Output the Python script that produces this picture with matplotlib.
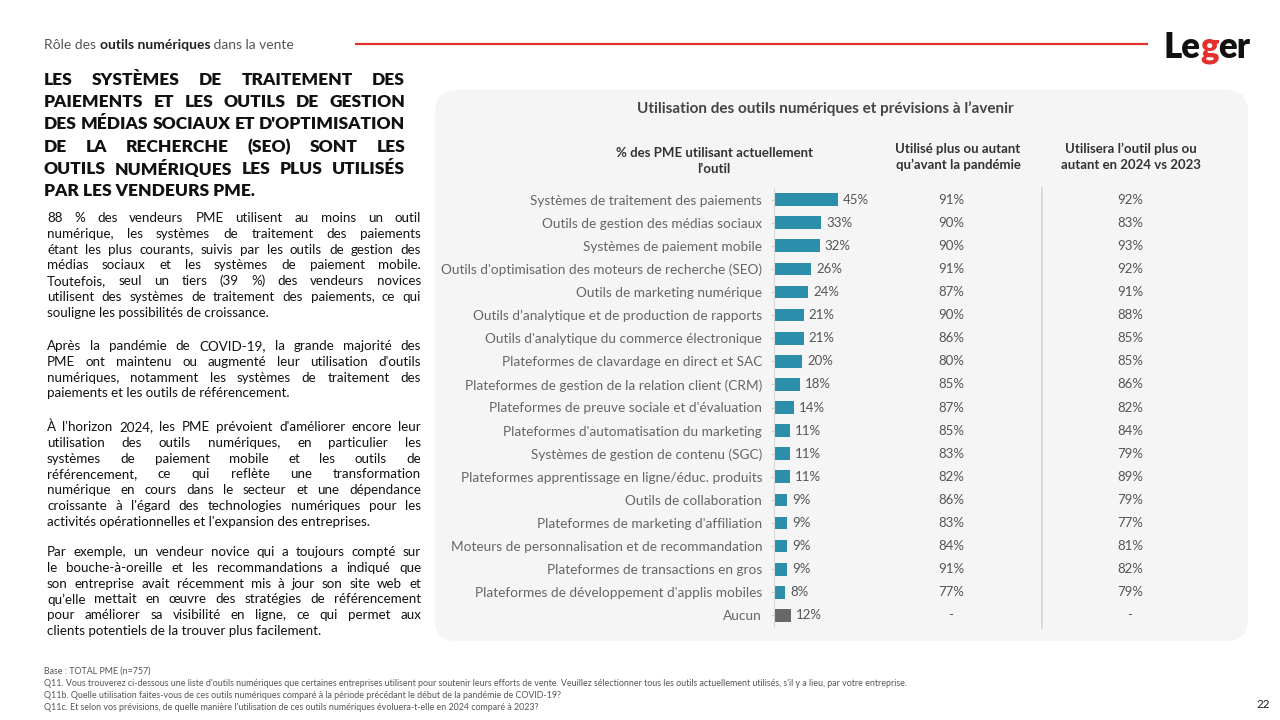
import numpy as np
import matplotlib
matplotlib.use("Agg")
import matplotlib.pyplot as plt
from matplotlib.patches import FancyBboxPatch
from matplotlib import transforms

plt.rcParams['font.family'] = ['Lato', 'DejaVu Sans']

# données du graphique
outils = [
    "Systèmes de traitement des paiements",
    "Outils de gestion des médias sociaux",
    "Systèmes de paiement mobile",
    "Outils d'optimisation des moteurs de recherche (SEO)",
    "Outils de marketing numérique",
    "Outils d’analytique et de production de rapports",
    "Outils d'analytique du commerce électronique",
    "Plateformes de clavardage en direct et SAC",
    "Plateformes de gestion de la relation client (CRM)",
    "Plateformes de preuve sociale et d'évaluation",
    "Plateformes d'automatisation du marketing",
    "Systèmes de gestion de contenu (SGC)",
    "Plateformes apprentissage en ligne/éduc. produits",
    "Outils de collaboration",
    "Plateformes de marketing d'affiliation",
    "Moteurs de personnalisation et de recommandation",
    "Plateformes de transactions en gros",
    "Plateformes de développement d'applis mobiles",
    "Aucun",
]
utilisation = [45, 33, 32, 26, 24, 21, 21, 20, 18, 14, 11, 11, 11, 9, 9, 9, 9, 8, 12]
pandemie = ["91%", "90%", "90%", "91%", "87%", "90%", "86%", "80%", "85%", "87%",
            "85%", "83%", "82%", "86%", "83%", "84%", "91%", "77%", "-"]
avenir = ["92%", "83%", "93%", "92%", "91%", "88%", "85%", "85%", "86%", "82%",
          "84%", "79%", "89%", "79%", "77%", "81%", "82%", "79%", "-"]

titre_gauche = [
    "LES SYSTÈMES DE TRAITEMENT DES",
    "PAIEMENTS ET LES OUTILS DE GESTION",
    "DES MÉDIAS SOCIAUX ET D'OPTIMISATION",
    "DE LA RECHERCHE (SEO) SONT LES",
    "OUTILS NUMÉRIQUES LES PLUS UTILISÉS",
    "PAR LES VENDEURS PME.",
]
paragraphes = [
    ["88 % des vendeurs PME utilisent au moins un outil",
     "numérique, les systèmes de traitement des paiements",
     "étant les plus courants, suivis par les outils de gestion des",
     "médias sociaux et les systèmes de paiement mobile.",
     "Toutefois, seul un tiers (39 %) des vendeurs novices",
     "utilisent des systèmes de traitement des paiements, ce qui",
     "souligne les possibilités de croissance."],
    ["Après la pandémie de COVID-19, la grande majorité des",
     "PME ont maintenu ou augmenté leur utilisation d'outils",
     "numériques, notamment les systèmes de traitement des",
     "paiements et les outils de référencement."],
    ["À l'horizon 2024, les PME prévoient d'améliorer encore leur",
     "utilisation des outils numériques, en particulier les",
     "systèmes de paiement mobile et les outils de",
     "référencement, ce qui reflète une transformation",
     "numérique en cours dans le secteur et une dépendance",
     "croissante à l'égard des technologies numériques pour les",
     "activités opérationnelles et l'expansion des entreprises."],
    ["Par exemple, un vendeur novice qui a toujours compté sur",
     "le bouche-à-oreille et les recommandations a indiqué que",
     "son entreprise avait récemment mis à jour son site web et",
     "qu’elle mettait en œuvre des stratégies de référencement",
     "pour améliorer sa visibilité en ligne, ce qui permet aux",
     "clients potentiels de la trouver plus facilement."],
]
notes = [
    "Base : TOTAL PME (n=757)",
    "Q11. Vous trouverez ci-dessous une liste d'outils numériques que certaines entreprises utilisent pour soutenir leurs efforts de vente. Veuillez sélectionner tous les outils actuellement utilisés, s'il y a lieu, par votre entreprise.",
    "Q11b. Quelle utilisation faites-vous de ces outils numériques comparé à la période précédant le début de la pandémie de COVID-19?",
    "Q11c. Et selon vos prévisions, de quelle manière l'utilisation de ces outils numériques évoluera-t-elle en 2024 comparé à 2023?",
]

fig = plt.figure(figsize=(12.8, 7.2), dpi=100)
# axe de fond en pixels
bg = fig.add_axes([0, 0, 1, 1])
bg.set_xlim(0, 1280)
bg.set_ylim(720, 0)
bg.axis("off")
renderer = fig.canvas.get_renderer()


def justifier(ligne, x0, x1, y, dernier=False, **kw):
    mots = ligne.split(" ")
    if dernier or len(mots) == 1:
        bg.text(x0, y, ligne, va="center", ha="left", **kw)
        return
    txts = [bg.text(0, y, m, va="center", ha="left", **kw) for m in mots]
    largeurs = [t.get_window_extent(renderer).width for t in txts]
    gap = (x1 - x0 - sum(largeurs)) / (len(mots) - 1)
    x = x0
    for t, w in zip(txts, largeurs):
        t.set_x(x)
        x += w + gap


# en-tête
t1 = bg.text(44, 45, "Rôle des ", fontsize=10, color="#555555", va="center")
w1 = t1.get_window_extent(renderer).width
t2 = bg.text(44 + w1, 45, "outils numériques", fontsize=10, color="#222222",
             fontweight="bold", va="center")
w2 = t2.get_window_extent(renderer).width
bg.text(44 + w1 + w2, 45, " dans la vente", fontsize=10, color="#555555", va="center")
bg.plot([356, 1147], [44, 44], color="#e2312d", lw=1.6)

# logo
x = 1163
for morceau, coul in [("Le", "#111111"), ("g", "#e2312d"), ("er", "#111111")]:
    t = bg.text(x, 47, morceau, fontsize=25, fontweight="heavy", color=coul, va="center")
    x += t.get_window_extent(renderer).width

# titre à gauche
for i, ligne in enumerate(titre_gauche):
    justifier(ligne, 44, 405, 80 + i * 22.2, dernier=(i == len(titre_gauche) - 1),
              fontsize=12.5, fontweight="heavy", color="#111111")

# paragraphes
y_debuts = [218, 346, 427, 552]
for para, y0 in zip(paragraphes, y_debuts):
    for i, ligne in enumerate(para):
        justifier(ligne, 47, 421, y0 + i * 15.8, dernier=(i == len(para) - 1),
                  fontsize=9.6, color="#111111")

# notes
for i, n in enumerate(notes):
    bg.text(44, 671 + i * 12, n, fontsize=6.4, color="#555555", va="center")
bg.text(1270, 705, "22", fontsize=8.5, color="#222222", va="center", ha="right")

# panneau gris arrondi
bg.add_patch(FancyBboxPatch((435, 90), 813, 551,
                            boxstyle="round,pad=0,rounding_size=22",
                            facecolor="#f5f5f5", edgecolor="none", zorder=0))
bg.text(825, 109, "Utilisation des outils numériques et prévisions à l’avenir",
        fontsize=11, fontweight="bold", color="#444444", ha="center", va="center")
bg.text(714, 161, "% des PME utilisant actuellement\nl’outil", fontsize=9.5,
        fontweight="bold", color="#333333", ha="center", va="center", linespacing=1.35)
bg.text(958, 157, "Utilisé plus ou autant\nqu’avant la pandémie", fontsize=9.5,
        fontweight="bold", color="#333333", ha="center", va="center", linespacing=1.35)
bg.text(1131, 157, "Utilisera l’outil plus ou\nautant en 2024 vs 2023", fontsize=9.5,
        fontweight="bold", color="#333333", ha="center", va="center", linespacing=1.35)
bg.plot([1042, 1042], [188, 628], color="#d4d4d4", lw=1.2)

# barres
ax = fig.add_axes([774 / 1280, 1 - 627 / 720, 100 / 1280, 439 / 720])
ax.patch.set_alpha(0)
n = len(outils)
pos = np.arange(n)
couleurs = ["#2b8fab"] * (n - 1) + ["#66666b"]
ax.barh(pos, utilisation, height=0.55, color=couleurs, zorder=2)
ax.set_xlim(0, 70.3)
ax.set_ylim(n - 0.5, -0.5)
ax.set_yticks(pos)
ax.set_yticklabels(outils, fontsize=9.8, color="#666666")
ax.tick_params(axis="y", length=2.5, color="#d0d0d0", pad=6)
ax.set_xticks([])
for s in ["top", "right", "bottom"]:
    ax.spines[s].set_visible(False)
ax.spines["left"].set_color("#d8d8d8")

for i, v in enumerate(utilisation):
    ax.text(v + 3.5, i, f"{v}%", fontsize=9.5, color="#555555", va="center", ha="left")

tr = transforms.blended_transform_factory(bg.transData, ax.transData)
for i in range(n):
    ax.text(951, i, pandemie[i], transform=tr, fontsize=9.5, color="#555555",
            va="center", ha="center", clip_on=False)
    ax.text(1130, i, avenir[i], transform=tr, fontsize=9.5, color="#555555",
            va="center", ha="center", clip_on=False)

fig.savefig("out.png", dpi=100)
